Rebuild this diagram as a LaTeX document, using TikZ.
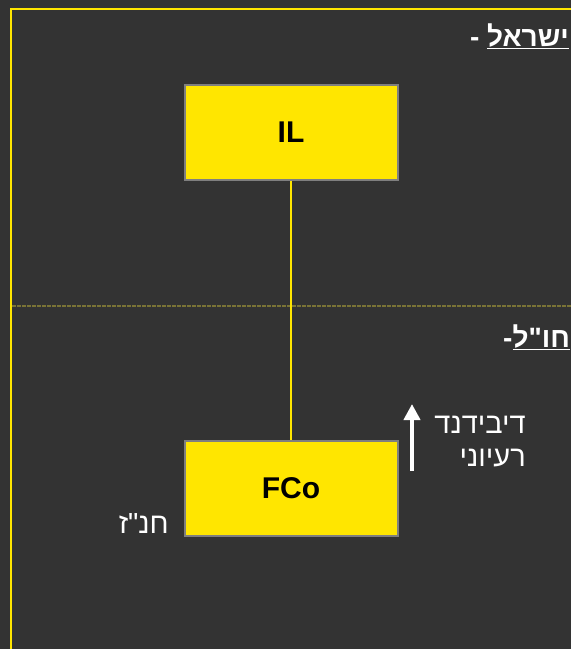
\documentclass[tikz,border=0pt]{standalone}
\usepackage{fontspec}
\setmainfont{Liberation Sans}
\newfontfamily\hebfont[Script=Hebrew]{Liberation Sans}
\TeXXeTstate=1
\usetikzlibrary{arrows.meta}

\definecolor{bgdark}{HTML}{333333}
\definecolor{ilyellow}{HTML}{FFE600}
\definecolor{boxedge}{HTML}{7F7F7F}
\definecolor{divider}{HTML}{7A7436}

\begin{document}
\begin{tikzpicture}[x=1pt,y=-1pt,
  entity/.style={draw=boxedge, line width=2pt, fill=ilyellow, minimum width=213pt,
    minimum height=95pt, font=\bfseries\fontsize{30}{34}\selectfont},
  heb/.style={text=white, inner sep=0pt, font=\hebfont\fontsize{29}{33}\selectfont},
  zone/.style={heb, font=\hebfont\bfseries\fontsize{28}{32}\selectfont}]
\fill[bgdark] (0,0) rectangle (571,649);
\useasboundingbox (0,0) rectangle (571,649);
% frame and border line between the two countries
\draw[ilyellow, line width=2pt] (11,660) -- (11,9) -- (580,9);
\draw[divider, line width=1.5pt, dash pattern=on 3.5pt off 1.5pt] (12,306) -- (571,306);
\node[zone, anchor=base east] (israel) at (569,46) {\beginR\underline{ישראל} -\endR};
\node[zone, anchor=base west] (abroad) at (503,347) {\beginR\underline{חו"ל}-\endR};
% companies
\node[entity] (il) at (291,132) {IL};
\node[entity] (fco) at (291,488) {FCo};
\draw[ilyellow, line width=2pt] (il) -- (fco);
\node[heb, anchor=base east] (cfc) at (169,533) {\beginR חנ"ז\endR};
% deemed dividend
\coordinate (divbase) at (412,471);
\coordinate (divtip) at (412,404);
\draw[white, line width=4pt, -{Triangle[length=16pt,width=16pt]}] (divbase) -- (divtip);
\node[heb, anchor=north east, align=right] (dividend) at (526,416)
  {\beginR דיבידנד\endR\\\beginR רעיוני\endR};
\end{tikzpicture}
\end{document}
